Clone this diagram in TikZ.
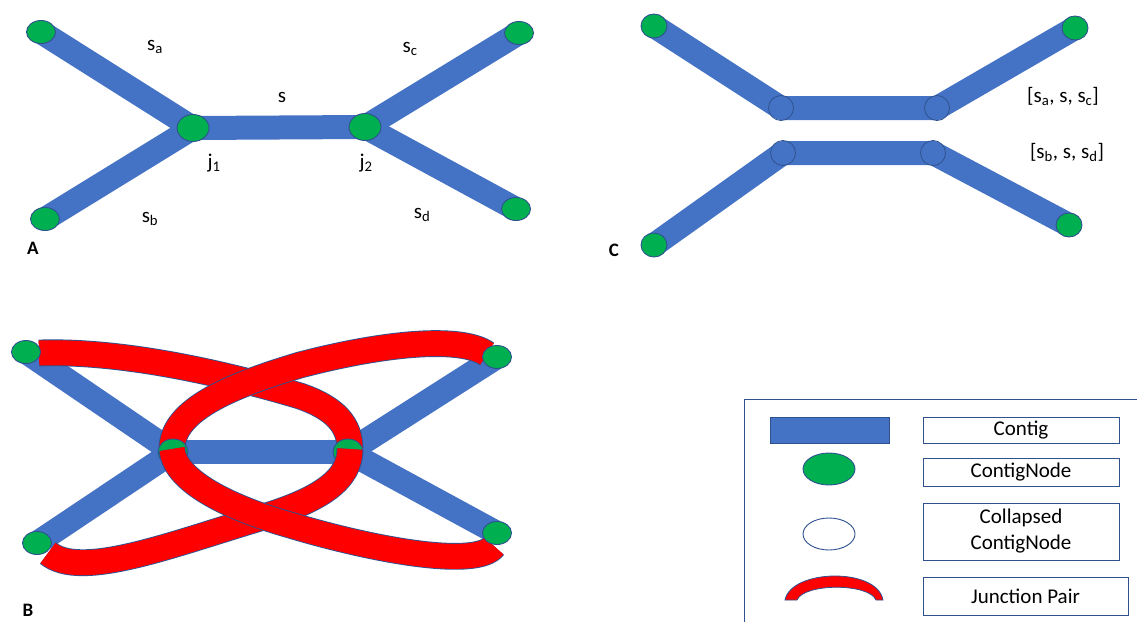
\documentclass[tikz,border=0pt]{standalone}
\usepackage{fontspec}
\setmainfont{Carlito}
\usetikzlibrary{shapes.geometric}
\definecolor{cblue}{RGB}{68,114,196}
\definecolor{cgreen}{RGB}{0,176,80}
\definecolor{cred}{RGB}{255,0,0}
\definecolor{cedge}{RGB}{47,82,143}
\newcommand{\lblfont}{\fontsize{21pt}{25pt}\selectfont}
\newcommand{\pnlfont}{\fontsize{19pt}{22pt}\selectfont\bfseries}
\newcommand{\sbs}[1]{\textsubscript{#1}}
\pgfdeclarelayer{bars}
\pgfdeclarelayer{arcs}
\pgfdeclarelayer{over}
\pgfdeclarelayer{front}
\pgfsetlayers{bars,arcs,main,over,front}
\tikzset{
  bar/.style={line width=24pt, draw=cblue, line cap=butt},
  cnode/.style={ellipse, fill=cgreen, draw=cedge, line width=0.9pt, minimum width=29pt, minimum height=23pt, inner sep=0pt},
  jnode/.style={cnode, minimum width=32pt, minimum height=27pt},
  bjnode/.style={cnode, minimum width=30pt, minimum height=26pt},
  ccnode/.style={cnode, minimum width=26pt, minimum height=24pt},
  colnode/.style={circle, draw=cedge, line width=0.8pt, minimum size=25pt, inner sep=0pt},
  jpair/.style={draw=cedge, line width=0.9pt, double=cred, double distance=25pt, line cap=butt},
  lbl/.style={font=\lblfont, inner sep=0pt, anchor=base},
  pnl/.style={font=\pnlfont, inner sep=0pt, anchor=base},
  legbox/.style={draw=cedge, line width=0.9pt, inner sep=0pt, font=\lblfont, align=center}
}
\begin{document}
\begin{tikzpicture}[x=1pt,y=-1pt]
\useasboundingbox (0,0) rectangle (1137,621);

% ---------------- Panel A ----------------
\node[cnode] (aTL) at (41,32) {};
\node[cnode] (aBL) at (45,219) {};
\node[jnode] (aJ1) at (193,128) {};
\node[jnode] (aJ2) at (365,127) {};
\node[cnode] (aTR) at (519,33) {};
\node[cnode] (aBR) at (516,209) {};
\begin{pgfonlayer}{bars}
\draw[bar] (aTL.center) -- (aJ1.center);
\draw[bar] (aBL.center) -- (aJ1.center);
\draw[bar] (aJ1.center) -- (aJ2.center);
\draw[bar] (aJ2.center) -- (aTR.center);
\draw[bar] (aJ2.center) -- (aBR.center);
\end{pgfonlayer}
\node[lbl] (la) at (155,50) {s\sbs{a}};
\node[lbl] (lc) at (410,52) {s\sbs{c}};
\node[lbl] (ls) at (282,102) {s};
\node[lbl] (lj1) at (214,168) {j\sbs{1}};
\node[lbl] (lj2) at (366,168) {j\sbs{2}};
\node[lbl] (lb) at (150,222) {s\sbs{b}};
\node[lbl] (ld) at (422,218) {s\sbs{d}};
\node[pnl] (pA) at (33,254) {A};

% ---------------- Panel C ----------------
\node[ccnode] (cTL) at (654,26) {};
\node[ccnode] (cTR) at (1075,28) {};
\node[ccnode] (cBL) at (654,245) {};
\node[ccnode] (cBR) at (1069,225) {};
\node[colnode] (cA1) at (781,108) {};
\node[colnode] (cA2) at (937,108) {};
\node[colnode] (cB1) at (783,153) {};
\node[colnode] (cB2) at (933,153) {};
\begin{pgfonlayer}{bars}
\draw[bar, line join=round] (cTL.center) -- (cA1.center) -- (cA2.center) -- (cTR.center);
\draw[bar, line join=round] (cBL.center) -- (cB1.center) -- (cB2.center) -- (cBR.center);
\end{pgfonlayer}
\node[lbl] (lac) at (1063,102) {[s\sbs{a}, s, s\sbs{c}]};
\node[lbl] (lbd) at (1067,158) {[s\sbs{b}, s, s\sbs{d}]};
\node[pnl] (pC) at (614,256) {C};

% ---------------- Panel B ----------------
\begin{pgfonlayer}{front}
\node[cnode] (bTL) at (26,352) {};
\node[cnode] (bTR) at (497,357) {};
\node[cnode] (bBL) at (37,543) {};
\node[cnode] (bBR) at (497,533) {};
\end{pgfonlayer}
\node[bjnode] (bJ1) at (173,452) {};
\node[bjnode] (bJ2) at (348,452) {};
\coordinate (a1s) at (39,353);
\coordinate (a1e) at (350,449);
\coordinate (a2s) at (487,354);
\coordinate (a2e) at (172,449);
\coordinate (a3s) at (172,449);
\coordinate (a3e) at (494,546);
\coordinate (a4s) at (350,449);
\coordinate (a4e) at (48,553);
\begin{pgfonlayer}{bars}
\draw[bar] (bTL.center) -- (bJ1.center);
\draw[bar] (bBL.center) -- (bJ1.center);
\draw[bar] (bJ1.center) -- (bJ2.center);
\draw[bar] (bJ2.center) -- (bTR.center);
\draw[bar] (bJ2.center) -- (bBR.center);
\end{pgfonlayer}
\begin{pgfonlayer}{arcs}
\draw[jpair] (a1s) .. controls (130,350) and (240,378) .. (300,396)
                   .. controls (335,408) and (350,425) .. (a1e);
\draw[jpair] (a2s) .. controls (460,335) and (380,344) .. (300,365)
                   .. controls (230,386) and (172,410) .. (a2e);
\end{pgfonlayer}
\begin{pgfonlayer}{over}
\draw[jpair] (a4s) .. controls (350,480) and (320,500) .. (260,518)
                   .. controls (170,545) and (80,580) .. (a4e);
\draw[jpair] (a3s) .. controls (174,478) and (220,505) .. (290,525)
                   .. controls (380,552) and (478,568) .. (a3e);
\end{pgfonlayer}
\node[pnl] (pB) at (28,616) {B};

% ---------------- Legend ----------------
\begin{scope}
\clip (0,0) rectangle (1137,621);
\draw[draw=cedge, line width=0.9pt] (744,399) rectangle (1160,640);
\end{scope}
\node[draw=cedge, line width=0.9pt, fill=cblue, minimum width=119pt, minimum height=26pt, inner sep=0pt] (kContig) at (830,430) {};
\node[cnode, minimum width=52pt, minimum height=32pt] (kNode) at (829,469) {};
\node[cnode, fill=white, minimum width=52pt, minimum height=32pt] (kCol) at (829,534) {};
\draw[draw=cedge, line width=0.8pt, fill=cred] (785,600) .. controls (791,569) and (877,567) .. (883,600)
   -- (876,600) .. controls (869,583) and (804,583) .. (797,600) -- cycle;
\node[legbox, minimum width=196pt, minimum height=26pt] (tContig) at (1021,430) {Contig};
\node[legbox, minimum width=196pt, minimum height=28pt] (tNode) at (1021,472) {ContigNode};
\node[legbox, minimum width=196pt, minimum height=57pt] (tCol) at (1021,531.5) {Collapsed\\[1pt]ContigNode};
\node[legbox, minimum width=205pt, minimum height=38pt] (tJP) at (1025.5,596) {Junction Pair};
\end{tikzpicture}
\end{document}
